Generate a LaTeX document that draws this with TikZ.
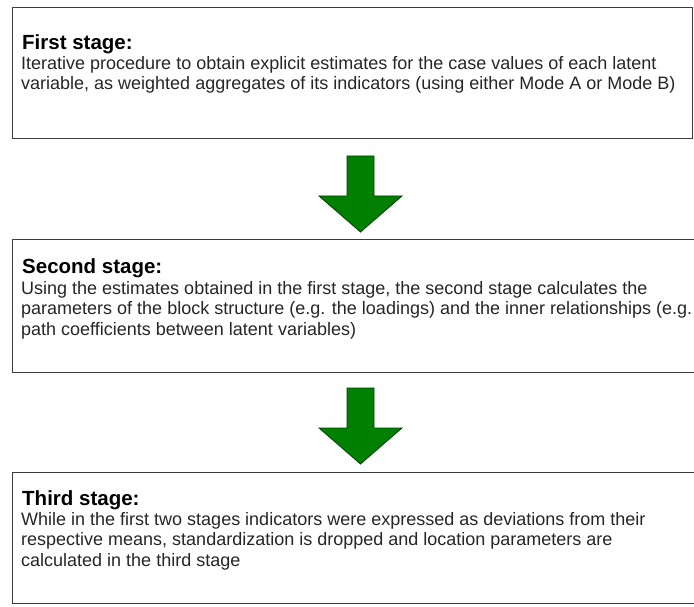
\documentclass[tikz,border=0pt]{standalone}
\usepackage{fontspec}
\setmainfont{Liberation Sans}
\usetikzlibrary{positioning}
\definecolor{arrowgreen}{RGB}{0,128,0}
\definecolor{boxline}{RGB}{60,60,60}

\begin{document}
\begin{tikzpicture}[x=1pt,y=-1pt]
\tikzstyle{stagebox}=[rectangle, draw=boxline, line width=1.3pt, anchor=north west, inner sep=0pt]
\tikzstyle{headtxt}=[anchor=base west, inner sep=0pt, font=\fontsize{20.5}{24}\selectfont\bfseries]
\tikzstyle{bodytxt}=[anchor=base west, inner sep=0pt, align=left, text=black!85, font=\fontsize{18}{20.5}\selectfont]
\tikzstyle{downarr}=[fill=arrowgreen, draw=black!75!green, line width=0.8pt, line join=miter]
\clip (0,0) rectangle (694,607);
\fill[white] (0,0) rectangle (694,607);
% the three stages
\node (s1) [stagebox, minimum width=680pt, minimum height=131pt] at (12,7) {};
\node (s2) [stagebox, minimum width=700pt, minimum height=133pt] at (12,239) {};
\node (s3) [stagebox, minimum width=700pt, minimum height=131pt] at (12,472) {};
% base of a text block is its last line
\node (h1) [headtxt] at (22,50) {First stage:};
\node (t1) [bodytxt] at (21,90) {Iterative procedure to obtain explicit estimates for the case values of each latent\\
variable, as weighted aggregates of its indicators (using either Mode A or Mode B)};
\node (h2) [headtxt] at (22,273) {Second stage:};
\node (t2) [bodytxt] at (21,335) {Using the estimates obtained in the first stage, the second stage calculates the\\
parameters of the block structure (e.g. the loadings) and the inner relationships (e.g.\\
path coefficients between latent variables)};
\node (h3) [headtxt] at (22,505) {Third stage:};
\node (t3) [bodytxt] at (21,566) {While in the first two stages indicators were expressed as deviations from their\\
respective means, standardization is dropped and location parameters are\\
calculated in the third stage};
% arrows between the stages
\foreach \ya in {156,388}
  \draw[downarr] (347,\ya) -- (374,\ya) -- (374,\ya+40) -- (402,\ya+40) -- (360.5,\ya+76)
    -- (319,\ya+40) -- (347,\ya+40) -- cycle;
\end{tikzpicture}
\end{document}
